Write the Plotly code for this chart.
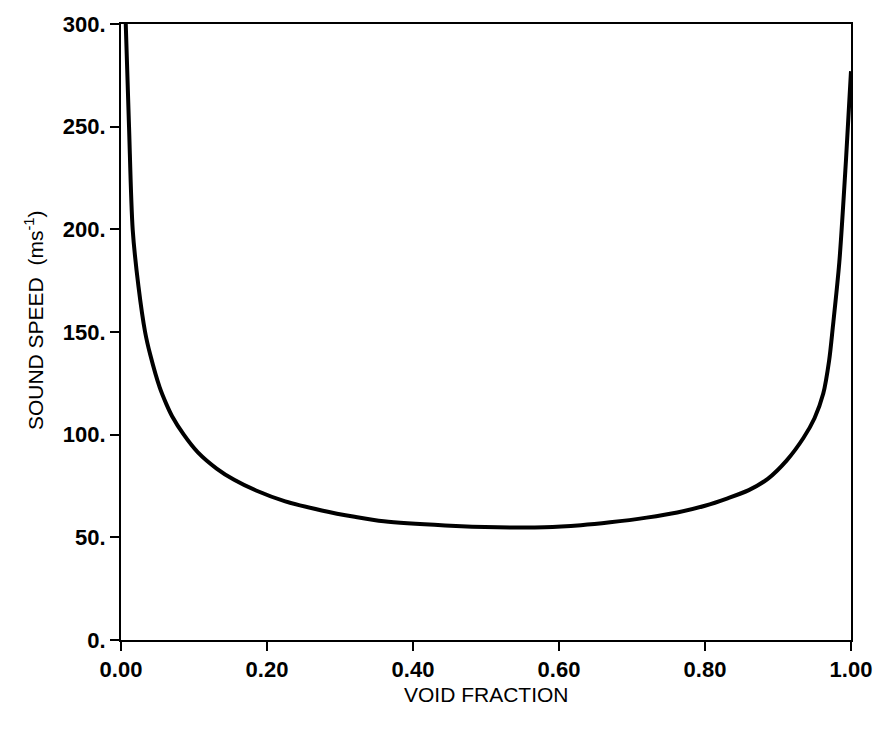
import plotly.graph_objects as go

void_fraction = [0.0065, 0.011, 0.016, 0.024, 0.033, 0.040, 0.053, 0.062, 0.070, 0.086, 0.105,
                 0.131, 0.155, 0.185, 0.225, 0.275, 0.320, 0.360, 0.444, 0.516, 0.580, 0.630,
                 0.670, 0.720, 0.762, 0.800, 0.830, 0.860, 0.886, 0.912, 0.935, 0.950,
                 0.962, 0.970, 0.975, 0.984, 0.993, 1.000]
sound_speed = [300, 250, 200, 172, 150, 139, 123, 115, 109, 100, 91.5,
               83.5, 78.0, 72.8, 67.5, 63.1, 60.0, 57.8, 55.8, 54.9, 54.9, 55.9,
               57.3, 59.6, 62.1, 65.4, 68.9, 73.0, 78.5, 87.5, 98.5, 108,
               120, 136, 152, 184, 233, 277]

x_ticks = [0, 0.2, 0.4, 0.6, 0.8, 1.0]
x_tick_labels = ["0.00", "0.20", "0.40", "0.60", "0.80", "1.00"]
y_ticks = [0, 50, 100, 150, 200, 250, 300]
y_tick_labels = ["0.", "50.", "100.", "150.", "200.", "250.", "300."]

fig = go.Figure()
fig.add_trace(go.Scatter(
    x=void_fraction, y=sound_speed, mode="lines",
    line=dict(color="black", width=4, shape="spline", smoothing=0.8),
    showlegend=False, hoverinfo="skip",
))

tickfont = dict(family="Liberation Sans, Arial, sans-serif", size=22, color="black", weight="bold")
titlefont = dict(family="Liberation Sans, Arial, sans-serif", size=21, color="black")

fig.update_layout(
    width=884, height=729,
    margin=dict(l=121, r=29, t=22, b=89),
    paper_bgcolor="white", plot_bgcolor="white",
    xaxis=dict(
        range=[0, 1], tickvals=x_ticks, ticktext=x_tick_labels,
        showgrid=False, zeroline=False,
        showline=True, linecolor="black", linewidth=2, mirror=True,
        ticks="outside", ticklen=9, tickwidth=2, tickcolor="black",
        tickfont=tickfont,
    ),
    yaxis=dict(
        range=[0, 300], tickvals=y_ticks, ticktext=y_tick_labels,
        showgrid=False, zeroline=False,
        showline=True, linecolor="black", linewidth=2, mirror=True,
        ticks="outside", ticklen=9, tickwidth=2, tickcolor="black",
        tickfont=tickfont,
    ),
    annotations=[
        dict(text="VOID FRACTION", font=titlefont, xref="paper", yref="paper",
             x=0.5, y=-0.088, xanchor="center", yanchor="middle", showarrow=False),
        dict(text="SOUND SPEED  (ms<sup>-1</sup>)", font=titlefont, textangle=-90,
             xref="paper", yref="paper", x=-0.12, y=0.52,
             xanchor="center", yanchor="middle", showarrow=False),
    ],
)

fig.write_html("out.html")
